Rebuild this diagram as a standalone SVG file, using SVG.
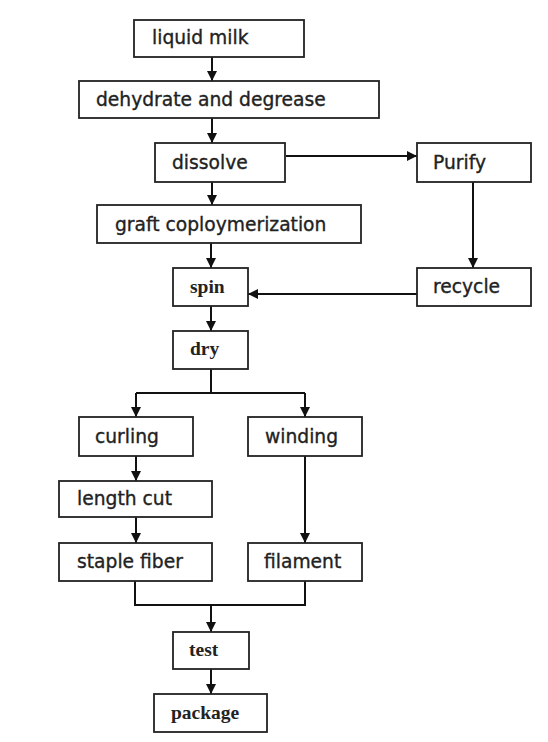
<svg xmlns="http://www.w3.org/2000/svg" width="548" height="742" viewBox="0 0 548 742">
<style>
.box{fill:#fff;stroke:#222;stroke-width:1.8}
.s{font-family:"DejaVu Sans",Verdana,sans-serif;font-size:18.7px;fill:#222;stroke:#222;stroke-width:0.35}
.r{font-family:"Liberation Serif","Times New Roman",serif;font-size:19.5px;font-weight:bold;fill:#222}
.c{fill:none;stroke:#111;stroke-width:2}
</style>
<defs>
<marker id="ah" viewBox="0 0 10 10" refX="10" refY="5" markerWidth="10" markerHeight="10" markerUnits="userSpaceOnUse" orient="auto">
<path d="M0,0 L10,5 L0,10 Z" fill="#111"/>
</marker>
</defs>
<rect width="548" height="742" fill="#fff"/>
<g id="connectors">
<path class="c" d="M212,57 V81" marker-end="url(#ah)"/>
<path class="c" d="M212,118 V143" marker-end="url(#ah)"/>
<path class="c" d="M212,182 V205" marker-end="url(#ah)"/>
<path class="c" d="M211,243 V268" marker-end="url(#ah)"/>
<path class="c" d="M211,306 V331" marker-end="url(#ah)"/>
<path class="c" d="M286,156 H417" marker-end="url(#ah)"/>
<path class="c" d="M473,182 V268" marker-end="url(#ah)"/>
<path class="c" d="M417,294 H248" marker-end="url(#ah)"/>
<path class="c" d="M211,369 V393 M136,393 H305"/>
<path class="c" d="M136,393 V417" marker-end="url(#ah)"/>
<path class="c" d="M305,393 V417" marker-end="url(#ah)"/>
<path class="c" d="M136,456 V481" marker-end="url(#ah)"/>
<path class="c" d="M136,517 V543" marker-end="url(#ah)"/>
<path class="c" d="M305,456 V543" marker-end="url(#ah)"/>
<path class="c" d="M135,581 V605 H305 V581"/>
<path class="c" d="M211,605 V632" marker-end="url(#ah)"/>
<path class="c" d="M211,669 V694" marker-end="url(#ah)"/>
</g>
<g id="liquid-milk"><rect class="box" x="134" y="20" width="170" height="37"/><text class="s" x="152" y="44">liquid milk</text></g>
<g id="dehydrate"><rect class="box" x="79" y="81" width="300" height="37"/><text class="s" x="96" y="106">dehydrate and degrease</text></g>
<g id="dissolve"><rect class="box" x="155" y="143" width="130" height="39"/><text class="s" x="172" y="169">dissolve</text></g>
<g id="graft"><rect class="box" x="97" y="205" width="264" height="38"/><text class="s" x="115" y="231">graft coploymerization</text></g>
<g id="purify"><rect class="box" x="417" y="143" width="114" height="39"/><text class="s" x="433" y="169">Purify</text></g>
<g id="recycle"><rect class="box" x="417" y="268" width="114" height="38"/><text class="s" x="433" y="293">recycle</text></g>
<g id="spin"><rect class="box" x="173" y="268" width="75" height="38"/><text class="r" x="190" y="293">spin</text></g>
<g id="dry"><rect class="box" x="173" y="331" width="75" height="38"/><text class="r" x="190" y="355">dry</text></g>
<g id="curling"><rect class="box" x="79" y="417" width="114" height="39"/><text class="s" x="95" y="443">curling</text></g>
<g id="winding"><rect class="box" x="248" y="417" width="114" height="39"/><text class="s" x="265" y="443">winding</text></g>
<g id="length-cut"><rect class="box" x="59" y="481" width="153" height="36"/><text class="s" x="77" y="505">length cut</text></g>
<g id="staple-fiber"><rect class="box" x="59" y="543" width="153" height="38"/><text class="s" x="77" y="568">staple fiber</text></g>
<g id="filament"><rect class="box" x="248" y="543" width="114" height="38"/><text class="s" x="264" y="568">filament</text></g>
<g id="test"><rect class="box" x="173" y="632" width="76" height="37"/><text class="r" x="189" y="656">test</text></g>
<g id="package"><rect class="box" x="154" y="694" width="113" height="38"/><text class="r" x="171" y="719">package</text></g>
</svg>
